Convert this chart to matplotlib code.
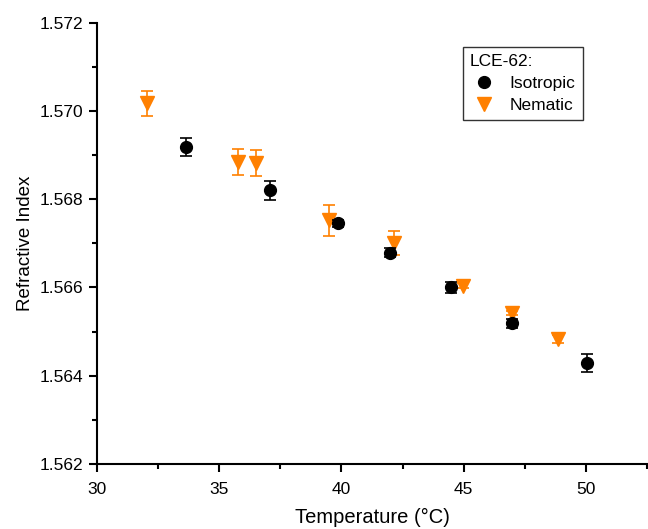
import matplotlib.pyplot as plt
from matplotlib.ticker import MultipleLocator

plt.rcParams['font.family'] = ['Liberation Sans', 'DejaVu Sans']

# Isotropic phase
iso_T = [33.66, 37.08, 39.87, 41.99, 44.47, 46.96, 50.05]
iso_n = [1.56918, 1.56820, 1.56746, 1.56679, 1.56600, 1.56519, 1.56429]
iso_err = [0.00020, 0.00022, 0.00008, 0.00010, 0.00012, 0.00010, 0.00020]

# Nematic phase
nem_T = [32.08, 35.76, 36.50, 39.49, 42.15, 44.98, 46.96, 48.86]
nem_n = [1.57017, 1.56885, 1.56882, 1.56752, 1.56700, 1.56604, 1.56542, 1.56483]
nem_err = [0.00028, 0.00029, 0.00030, 0.00035, 0.00027, 0.00005, 0.00005, 0.00010]

orange = '#FF8000'

fig = plt.figure(figsize=(6.48, 5.29), dpi=100)
ax = fig.add_axes([0.149, 0.123, 0.85, 0.834])

h_nem = ax.errorbar(nem_T, nem_n, yerr=nem_err, fmt='v', color=orange, markersize=10,
                    capsize=4.5, elinewidth=1.2, capthick=1.2, label='Nematic', zorder=2)
h_iso = ax.errorbar(iso_T, iso_n, yerr=iso_err, fmt='o', color='black', markersize=8.5,
                    capsize=4.5, elinewidth=1.2, capthick=1.2, label='Isotropic', zorder=3)

ax.set_xlim(30, 52.5)
ax.set_ylim(1.562, 1.572)
ax.xaxis.set_major_locator(MultipleLocator(5))
ax.xaxis.set_minor_locator(MultipleLocator(2.5))
ax.yaxis.set_major_locator(MultipleLocator(0.002))
ax.yaxis.set_minor_locator(MultipleLocator(0.001))
ax.yaxis.set_major_formatter(plt.FormatStrFormatter('%.3f'))

for s in ['top', 'right']:
    ax.spines[s].set_visible(False)
for s in ['left', 'bottom']:
    ax.spines[s].set_linewidth(1.5)
ax.tick_params(which='major', direction='out', length=6, width=1.5, labelsize=12.5)
ax.tick_params(axis='x', which='major', pad=7)
ax.tick_params(which='minor', direction='out', length=3.5, width=1.5)

ax.set_xlabel('Temperature (°C)', fontsize=14.5, labelpad=8)
ax.set_ylabel('Refractive Index', fontsize=13.5)

leg = ax.legend([h_iso[0], h_nem[0]], ['Isotropic', 'Nematic'], title='LCE-62:',
                loc='upper left', bbox_to_anchor=(0.665, 0.945), borderaxespad=0,
                fontsize=12.5, title_fontsize=12.5, frameon=True, fancybox=False,
                handlelength=1.6, borderpad=0.4, labelspacing=0.4, handletextpad=0.7)
leg._legend_box.align = 'left'
leg.get_frame().set_edgecolor('black')
leg.get_frame().set_linewidth(1.0)

fig.savefig('out.png', dpi=100)
